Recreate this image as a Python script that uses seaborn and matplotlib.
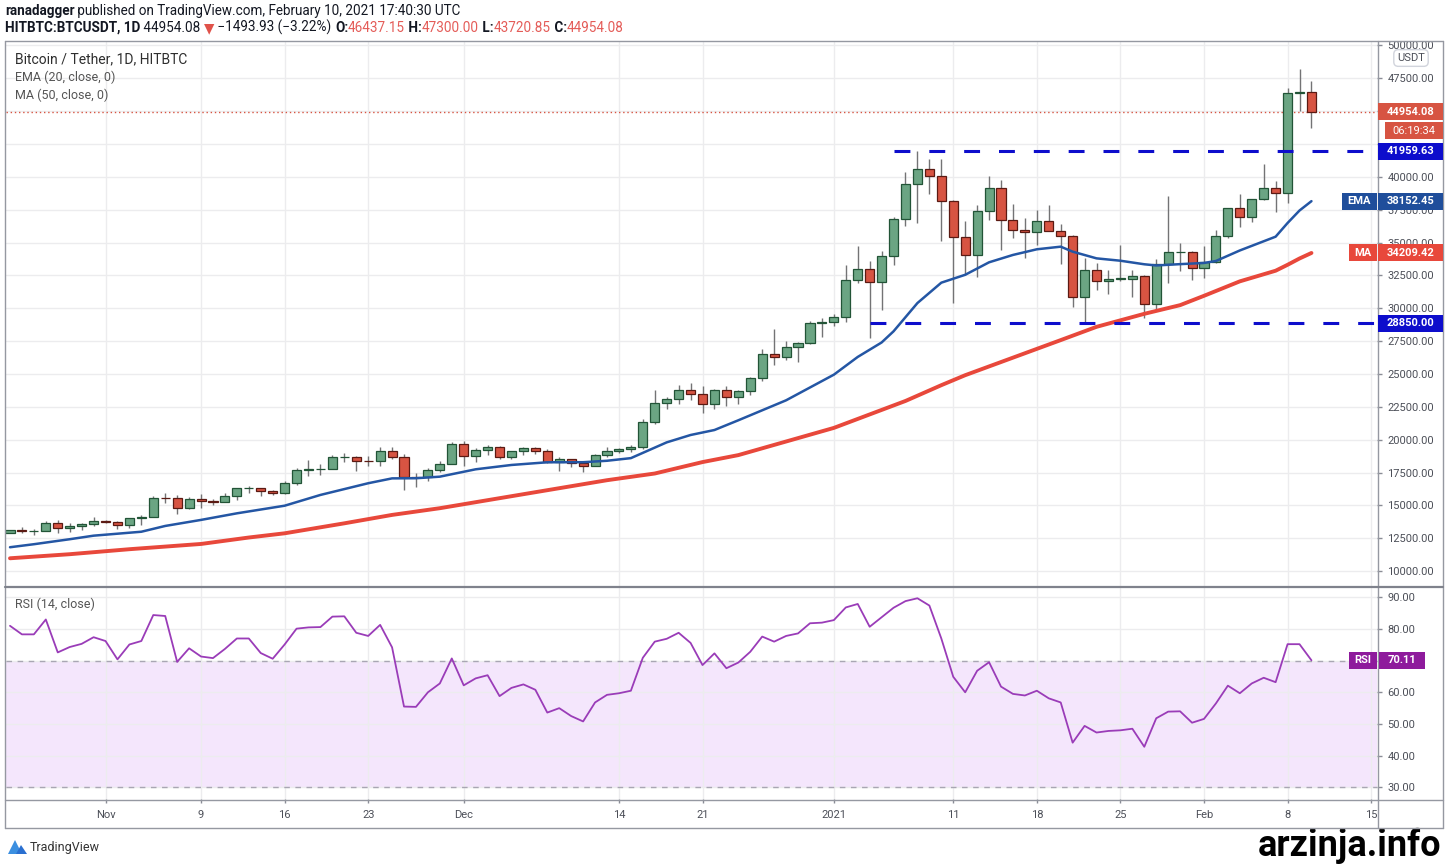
import numpy as np
import pandas as pd
import matplotlib
matplotlib.use("Agg")
import matplotlib.pyplot as plt
import seaborn as sns
from matplotlib.patches import Rectangle, Polygon
from matplotlib.lines import Line2D
from matplotlib.ticker import FuncFormatter

# ---------------- data ----------------
start_date = "2020-10-24"
end_date = "2021-02-10"

open_ = [12931, 13108, 13031, 13068, 13636, 13267, 13455, 13560, 13792, 13761,
         13549, 14024, 14145, 15590, 15580, 14818, 15475, 15328, 15297, 15684,
         16292, 16320, 16070, 15957, 16713, 17660, 17776, 17802, 18655, 18703,
         18414, 18368, 19160, 18719, 17150, 17139, 17719, 18185, 19696, 18764,
         19204, 19421, 18650, 19147, 19359, 19166, 18324, 18541, 18254, 18036,
         18808, 19175, 19273, 19426, 21335, 22797, 23107, 23821, 23455, 22719,
         23810, 23232, 23729, 24712, 26493, 26281, 27079, 27385, 28875, 28923,
         29331, 32176, 33000, 31989, 33949, 36769, 39432, 40586, 40088, 38150,
         35410, 34049, 37371, 39145, 36737, 35994, 35824, 36622, 35901, 35468,
         30851, 32950, 32078, 32200, 32254, 32464, 30362, 33368, 34246, 34262,
         33092, 33518, 35472, 37620, 36936, 38289, 39181, 38795, 46374, 46437.15]
high = [13165, 13350, 13236, 13790, 13863, 13650, 13695, 14100, 13895, 13820,
        14066, 14259, 15750, 15965, 15765, 15650, 15840, 15460, 15965, 16340,
        16480, 16326, 16180, 16880, 17858, 18476, 18180, 18815, 18965, 18750,
        18766, 19418, 19484, 18915, 17457, 17880, 18360, 19863, 19888, 19342,
        19598, 19527, 19177, 19420, 19420, 19294, 18650, 18557, 18292, 18948,
        19411, 19349, 19570, 21560, 23800, 23285, 24171, 24295, 24102, 23837,
        24100, 23794, 24789, 26867, 28422, 27500, 27410, 28996, 29300, 29600,
        33300, 34778, 33600, 34360, 36939, 40365, 41950, 41380, 41350, 38264,
        36628, 37850, 40100, 39747, 37950, 36852, 37469, 37850, 36415, 35600,
        33826, 33456, 32944, 34802, 32921, 32557, 33783, 38531, 34933, 34342,
        34717, 35984, 37662, 38708, 38310, 40955, 39700, 46794, 48200, 47300.00]
low = [12885, 12888, 12765, 13050, 12900, 12950, 13115, 13425, 13630, 13195,
       13293, 13525, 14093, 15185, 14344, 14703, 14805, 15072, 15272, 15440,
       15952, 15711, 15800, 15870, 16553, 17214, 17335, 17740, 18320, 17610,
       18000, 18018, 18500, 16188, 16438, 16865, 17517, 18184, 18001, 18330,
       18867, 18565, 18500, 18857, 18902, 18200, 17650, 17911, 17572, 18020,
       18711, 19000, 19050, 19278, 21230, 22350, 22750, 23060, 22000, 22353,
       22600, 22703, 23433, 24500, 25700, 26101, 25880, 27320, 27850, 28624,
       28946, 31963, 27734, 29900, 33288, 36300, 36500, 38720, 35111, 30420,
       32531, 32380, 36701, 34408, 35357, 33850, 34800, 35844, 33400, 30071,
       28850, 31390, 31106, 32087, 30837, 29241, 29842, 31915, 32825, 32171,
       32296, 33418, 35362, 36161, 36570, 38215, 37351, 37988, 45000, 43720.85]
close = [13108, 13031, 13068, 13636, 13267, 13455, 13560, 13792, 13761, 13549,
         14024, 14145, 15590, 15580, 14818, 15475, 15328, 15297, 15684, 16292,
         16320, 16070, 15957, 16713, 17660, 17776, 17802, 18655, 18703, 18414,
         18368, 19160, 18719, 17150, 17139, 17719, 18185, 19696, 18764, 19204,
         19421, 18650, 19147, 19359, 19166, 18324, 18541, 18254, 18036, 18808,
         19175, 19273, 19426, 21335, 22797, 23107, 23821, 23455, 22719, 23810,
         23232, 23729, 24712, 26493, 26281, 27079, 27385, 28875, 28923, 29331,
         32176, 33000, 31989, 33949, 36769, 39432, 40586, 40088, 38150, 35410,
         34049, 37371, 39145, 36737, 35994, 35824, 36622, 35901, 35468, 30851,
         32950, 32078, 32259, 32280, 32464, 30362, 33368, 34246, 34262, 33092,
         33518, 35472, 37620, 36936, 38289, 39181, 38795, 46374, 46420, 44954.08]

ema_dates = ['2020-10-24', '2020-10-26', '2020-10-29', '2020-10-31', '2020-11-04', '2020-11-06',
             '2020-11-09', '2020-11-12', '2020-11-16', '2020-11-19', '2020-11-23', '2020-11-25',
             '2020-11-27', '2020-11-29', '2020-12-02', '2020-12-05', '2020-12-08', '2020-12-11',
             '2020-12-13', '2020-12-15', '2020-12-17', '2020-12-18', '2020-12-20', '2020-12-22',
             '2020-12-24', '2020-12-28', '2021-01-01', '2021-01-03', '2021-01-05', '2021-01-06',
             '2021-01-08', '2021-01-10', '2021-01-12', '2021-01-14', '2021-01-16', '2021-01-18',
             '2021-01-20', '2021-01-21', '2021-01-23', '2021-01-25', '2021-01-27', '2021-01-28',
             '2021-01-30', '2021-02-01', '2021-02-02', '2021-02-04', '2021-02-07', '2021-02-08',
             '2021-02-09', '2021-02-10']
ema_vals = [11820, 12050, 12430, 12700, 13000, 13440, 13900, 14400, 14980, 15800, 16690, 17060,
            17070, 17190, 17750, 18080, 18285, 18290, 18400, 18600, 19400, 19800, 20360, 20740,
            21480, 23000, 24950, 26300, 27400, 28250, 30400, 31950, 32550, 33500, 34060, 34490,
            34690, 34310, 33800, 33620, 33350, 33260, 33360, 33450, 33600, 34400, 35450, 36490,
            37440, 38152.45]

ma_dates = ['2020-10-24', '2020-10-29', '2020-11-03', '2020-11-09', '2020-11-13', '2020-11-16',
            '2020-11-21', '2020-11-25', '2020-11-29', '2020-12-03', '2020-12-13', '2020-12-17',
            '2020-12-21', '2020-12-24', '2021-01-01', '2021-01-07', '2021-01-10', '2021-01-12',
            '2021-01-20', '2021-01-23', '2021-01-27', '2021-01-30', '2021-02-01', '2021-02-04',
            '2021-02-07', '2021-02-08', '2021-02-09', '2021-02-10']
ma_vals = [10980, 11290, 11670, 12070, 12560, 12880, 13640, 14280, 14790, 15400, 16920, 17430,
           18300, 18830, 20900, 22950, 24150, 24910, 27580, 28590, 29580, 30240, 30950, 32050,
           32860, 33310, 33790, 34209.42]

rsi = [81.0, 78.3, 78.3, 83.0, 72.6, 74.3, 75.3, 77.4, 76.2, 70.4,
       75.1, 76.2, 84.4, 84.1, 69.6, 73.9, 71.3, 70.8, 73.7, 77.0,
       77.0, 72.4, 70.6, 75.1, 80.1, 80.5, 80.6, 83.9, 84.0, 78.8,
       77.8, 81.3, 74.2, 55.5, 55.4, 60.0, 62.8, 70.7, 62.2, 64.4,
       65.4, 58.8, 61.4, 62.5, 60.8, 53.6, 55.0, 52.5, 50.8, 56.8,
       59.2, 59.7, 60.5, 70.9, 76.0, 76.9, 78.8, 75.6, 68.6, 72.3,
       67.6, 69.4, 72.8, 77.6, 76.0, 77.8, 78.6, 81.8, 82.0, 82.8,
       86.8, 87.9, 80.7, 83.7, 86.7, 88.8, 89.7, 87.4, 77.0, 64.9,
       60.0, 66.8, 69.5, 61.8, 59.5, 59.0, 60.5, 58.1, 56.8, 44.1,
       49.4, 47.3, 47.8, 48.0, 48.5, 42.8, 51.8, 53.9, 54.0, 50.4,
       51.6, 56.5, 62.1, 59.7, 62.8, 64.6, 63.2, 75.2, 75.2, 70.11]

resistance_level = 41959.63
resistance_start = '2021-01-06'
support_level = 28850.00
support_start = '2021-01-04'

tick_dates = ['2020-11-01', '2020-11-09', '2020-11-16', '2020-11-23', '2020-12-01', '2020-12-14',
              '2020-12-21', '2021-01-01', '2021-01-11', '2021-01-18', '2021-01-25', '2021-02-01',
              '2021-02-08', '2021-02-15']
tick_labels = ['Nov', '9', '16', '23', 'Dec', '14', '21', '2021', '11', '18', '25', 'Feb', '8', '15']
hidden_price_labels = [45000, 42500]

header1 = [("ranadagger", "#131722", "bold"),
           (" published on TradingView.com, February 10, 2021 17:40:30 UTC", "#131722", "normal")]
header2 = [("HITBTC:BTCUSDT, 1D", "#131722", "bold"), (" 44954.08 ", "#131722", "normal"),
           ("\u25bc", "#e0524a", "normal"), (" \u22121493.93 (\u22123.22%) ", "#131722", "normal"),
           ("O:", "#131722", "bold"), ("46437.15", "#e45c58", "normal"),
           (" H:", "#131722", "bold"), ("47300.00", "#e45c58", "normal"),
           (" L:", "#131722", "bold"), ("43720.85", "#e45c58", "normal"),
           (" C:", "#131722", "bold"), ("44954.08", "#e45c58", "normal")]
countdown = "06:19:34"

# ---------------- styling ----------------
sns.set_theme(style="white")
plt.rcParams['font.family'] = ['Roboto', 'DejaVu Sans']

UP_BODY, UP_EDGE = '#6ba583', '#225437'
DN_BODY, DN_EDGE = '#d75442', '#5b1a13'
WICK = '#737375'
EMA_C, MA_C = '#2456a4', '#e8483b'
LVL_C = '#0d0dcc'
RSI_C = '#9a3cb8'
GRID = '#ececee'
FRAME = '#9598a1'

W, H = 1449, 864
fig = plt.figure(figsize=(W / 100, H / 100), dpi=100)
fig.patch.set_facecolor('white')


def fx(px):
    return px / W


def fy(py):
    return 1 - py / H


def rect(l, t, r, b):
    return [l / W, 1 - b / H, (r - l) / W, (b - t) / H]


ax = fig.add_axes(rect(6, 42, 1377, 586))
axr = fig.add_axes(rect(6, 588, 1377, 799))

t0 = pd.Timestamp(start_date)
dates = pd.date_range(start_date, end_date, freq='D')
xd = np.array([(d - t0).days for d in dates])


def dpos(lst):
    return np.array([(pd.Timestamp(d) - t0).days for d in lst])


o = np.array(open_, float)
h = np.array(high, float)
l = np.array(low, float)
c = np.array(close, float)

XLIM = (-0.335, 114.49)
for a in (ax, axr):
    a.set_xlim(*XLIM)
    a.set_facecolor('white')
    for s in a.spines.values():
        s.set_visible(False)
ax.set_ylim(8871, 50262)
axr.set_ylim(26.31, 92.94)

# grid
tpos = dpos(tick_dates)
for a in (ax, axr):
    a.set_xticks(tpos)
    a.grid(True, color=GRID, lw=1, zorder=0)
    a.set_axisbelow(True)
ax.set_yticks(np.arange(10000, 50001, 2500))
axr.set_yticks(np.arange(30, 91, 10))

# candles
ax.vlines(xd, l, h, color=WICK, lw=1, zorder=2)
up = c >= o
dn = ~up
bw = 0.76
ax.bar(xd[up], (c - o)[up], bottom=o[up], width=bw, color=UP_BODY, edgecolor=UP_EDGE,
       linewidth=0.9, zorder=3)
ax.bar(xd[dn], (c - o)[dn], bottom=o[dn], width=bw, color=DN_BODY, edgecolor=DN_EDGE,
       linewidth=0.9, zorder=3)

# moving averages
sns.lineplot(x=dpos(ma_dates), y=ma_vals, ax=ax, color=MA_C, lw=2.8, zorder=4, legend=False)
sns.lineplot(x=dpos(ema_dates), y=ema_vals, ax=ax, color=EMA_C, lw=1.8, zorder=4, legend=False)

# horizontal levels
rs = (pd.Timestamp(resistance_start) - t0).days
ss = (pd.Timestamp(support_start) - t0).days
ax.plot([rs, XLIM[1]], [resistance_level] * 2, color=LVL_C, lw=2.2, ls=(0, (5.2, 6.2)),
        dash_capstyle='butt', zorder=5)
ax.plot([ss, XLIM[1]], [support_level] * 2, color=LVL_C, lw=2.2, ls=(0, (5.2, 6.2)),
        dash_capstyle='butt', zorder=5)
ax.axhline(c[-1], color=DN_BODY, lw=1, ls=(0, (1, 2)), zorder=1)

# RSI pane
axr.axhspan(30, 70, color='#f4e6fc', zorder=0, lw=0)
axr.axhline(70, color='#a9a6b3', lw=1, ls=(0, (4, 4)), zorder=1)
axr.axhline(30, color='#a9a6b3', lw=1, ls=(0, (4, 4)), zorder=1)
sns.lineplot(x=xd, y=rsi, ax=axr, color=RSI_C, lw=1.3, zorder=3, legend=False)

# ticks
price_fmt = FuncFormatter(lambda v, p: '' if round(v) in hidden_price_labels else f"{v:.2f}")
rsi_fmt = FuncFormatter(lambda v, p: f"{v:.2f}")
ax.yaxis.set_major_formatter(price_fmt)
axr.yaxis.set_major_formatter(rsi_fmt)
for a in (ax, axr):
    a.yaxis.tick_right()
    a.tick_params(axis='y', right=True, left=False, labelright=True, labelleft=False,
                  length=3.5, width=1, color='#8a8d96', pad=4, labelsize=8, labelcolor='#4c4f58')
    a.set_xlabel('')
    a.set_ylabel('')
ax.tick_params(axis='x', bottom=False, labelbottom=False)
axr.set_xticklabels(tick_labels)
axr.tick_params(axis='x', bottom=True, length=3, width=1, color='#8a8d96', pad=5,
                labelsize=8, labelcolor='#4c4f58')

# frame lines
def fline(x0, y0, x1, y1, color=FRAME, lw=1):
    fig.add_artist(Line2D([fx(x0), fx(x1)], [fy(y0), fy(y1)], transform=fig.transFigure,
                          color=color, lw=lw, zorder=10))

fline(5, 41, 1443, 41)
fline(5, 828, 1443, 828)
fline(5, 41, 5, 828)
fline(1443, 41, 1443, 828)
fline(1377.5, 41, 1377.5, 828)
fline(5, 587, 1443, 587, color='#7f828c', lw=1.6)
fline(5, 799.5, 1443, 799.5)

# label helpers
def ypx(a, v):
    return H - a.transData.transform((0, v))[1]


def box(lft, rgt, cy, color, text, weight='bold', hgt=17):
    fig.add_artist(Rectangle((fx(lft), fy(cy + hgt / 2)), (rgt - lft) / W, hgt / H,
                             transform=fig.transFigure, facecolor=color, edgecolor='none', zorder=11))
    fig.text(fx((lft + rgt) / 2), fy(cy), text, ha='center', va='center', color='white',
             fontsize=8, fontweight=weight, zorder=12)


py_last = ypx(ax, c[-1])
box(1378, 1443, py_last, DN_BODY, f"{c[-1]:.2f}")
box(1385, 1443, py_last + 19, DN_BODY, countdown, weight='normal')
box(1378, 1443, ypx(ax, resistance_level), LVL_C, f"{resistance_level:.2f}")
py_ema = ypx(ax, ema_vals[-1])
box(1342, 1377, py_ema, '#1f4e9b', "EMA")
box(1378, 1443, py_ema, '#1f4e9b', f"{ema_vals[-1]:.2f}")
py_ma = ypx(ax, ma_vals[-1])
box(1349, 1377, py_ma, MA_C, "MA")
box(1378, 1443, py_ma, MA_C, f"{ma_vals[-1]:.2f}")
box(1378, 1443, ypx(ax, support_level), LVL_C, f"{support_level:.2f}")
py_rsi = ypx(axr, rsi[-1])
box(1349, 1377, py_rsi, '#8e1a9c', "RSI")
box(1379, 1425, py_rsi, '#8e1a9c', f"{rsi[-1]:.2f}")

fig.text(fx(1411), fy(58), "USDT", ha='center', va='center', fontsize=8, color='#4c4f58', zorder=12,
         bbox=dict(boxstyle='round,pad=0.3,rounding_size=0.4', fc='white', ec='#d1d4dc', lw=1))

# pane legends
fig.text(fx(15), fy(59), "Bitcoin / Tether, 1D, HITBTC", fontsize=10, color='#2e2e2e',
         va='center', ha='left')
fig.text(fx(15), fy(77), "EMA (20, close, 0)", fontsize=9, color='#555555', va='center', ha='left')
fig.text(fx(15), fy(95), "MA (50, close, 0)", fontsize=9, color='#555555', va='center', ha='left')
fig.text(fx(15), fy(604), "RSI (14, close)", fontsize=9, color='#555555', va='center', ha='left')

# header runs
renderer = fig.canvas.get_renderer()


def runs(x_px, base_px, parts, size):
    xx = x_px
    for s, col, wt in parts:
        t = fig.text(fx(xx), fy(base_px), s, color=col, fontweight=wt, fontsize=size,
                     va='baseline', ha='left')
        xx += t.get_window_extent(renderer=renderer).width


runs(5, 15, header1, 9.75)
runs(5, 32, header2, 9.75)

# footer
fig.add_artist(Polygon([[fx(8), fy(854)], [fx(15), fy(840)], [fx(22), fy(854)]],
                       closed=True, transform=fig.transFigure, fc='#3b8fe0', ec='none'))
fig.add_artist(Polygon([[fx(16), fy(854)], [fx(21), fy(845)], [fx(27), fy(854)]],
                       closed=True, transform=fig.transFigure, fc='#2a6fd0', ec='none'))
fig.text(fx(30), fy(847), "TradingView", fontsize=9, color='#333333', va='center', ha='left')
fig.text(fx(1441), fy(846), "arzinja.info", fontsize=26, fontweight='bold', color='black',
         va='center', ha='right')

fig.savefig("out.png", dpi=100, facecolor='white')
